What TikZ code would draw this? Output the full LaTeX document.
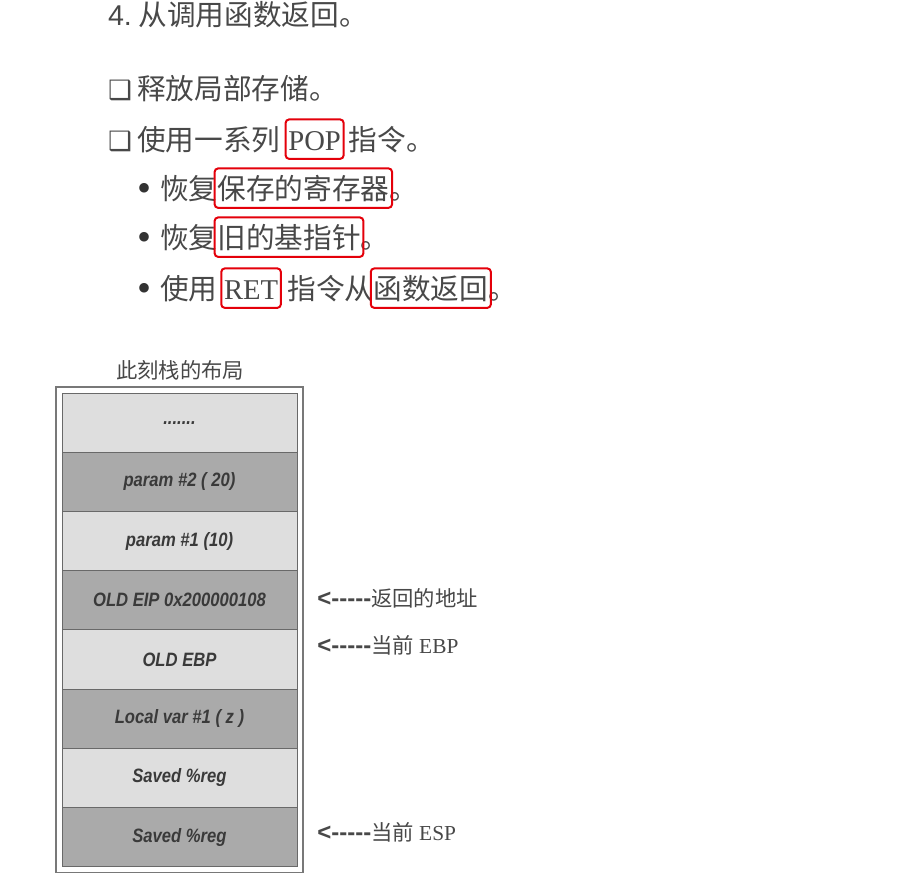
\documentclass[tikz,border=0pt]{standalone}
\usepackage{fontspec}
\setmainfont{Liberation Serif}
\newfontfamily\zhfont{Noto Sans CJK SC}
\newfontfamily\symfont{DejaVu Sans}
\newfontfamily\cellfont{Liberation Sans}
\newfontfamily\cellcondfont{Liberation Sans}[FakeStretch=0.86]
\usetikzlibrary{positioning, fit}
\definecolor{txtgray}{RGB}{72,72,72}
\definecolor{markred}{RGB}{228,0,10}
\definecolor{cellLight}{RGB}{222,222,222}
\definecolor{cellDark}{RGB}{170,170,170}
\definecolor{cellLine}{RGB}{105,105,105}
\definecolor{cellText}{RGB}{58,58,58}
\definecolor{frameGray}{RGB}{120,120,120}
\newcommand{\zh}[1]{{\zhfont #1}}

\begin{document}
\begin{tikzpicture}[x=0.75pt, y=-0.75pt,
	txtline/.style={inner sep=0pt, outer sep=0pt, anchor=base west, text height=18.9pt, text depth=2.6pt, text=txtgray, font=\fontsize{21.5}{25}\selectfont},
	boxglyph/.style={txtline, font=\symfont\fontsize{20}{25}\selectfont},
	bulletglyph/.style={txtline, text=black!80, font=\fontsize{30}{30}\selectfont},
	redbox/.style={draw=markred, line width=1.5pt, rounded corners=2.5pt, inner xsep=2pt, inner ysep=4pt},
	cell/.style={draw=cellLine, line width=0.6pt, minimum width=176.25pt, minimum height=44.4pt, inner sep=0pt, outer sep=0pt, text=cellText, font=\cellcondfont\bfseries\itshape\fontsize{14.5}{16}\selectfont},
	lightcell/.style={cell, fill=cellLight},
	darkcell/.style={cell, fill=cellDark},
	ptr/.style={anchor=west, inner sep=0pt, text=txtgray, font=\fontsize{16}{19}\selectfont}]
\useasboundingbox (0,0) rectangle (913,881);
%========================
% Top: steps of the return
%========================
\node[txtline] (num) at (108,26) {\cellfont 4.};
\node[txtline, base right=5pt of num] (title) {\zh{从调用函数返回。}};

% release local storage
\node[boxglyph] (box1) at (108,99) {❑};
\node[txtline] (free) at (137,99) {\zh{释放局部存储。}};

% POP instructions
\node[boxglyph] (box2) at (108,150) {❑};
\node[txtline] (use) at (137,150) {\zh{使用一系列}};
\node[txtline, base right=6pt of use] (pop) {POP};
\node[txtline, base right=6pt of pop] (popend) {\zh{指令。}};

\node[bulletglyph] (dot1) at (137,201.5) {•};
\node[txtline] (rest1) at (160,199) {\zh{恢复}};
\node[txtline, base right=0pt of rest1] (regs) {\zh{保存的寄存器}};
\node[txtline, base right=0pt of regs] (regsend) {\zh{。}};

\node[bulletglyph] (dot2) at (137,250.5) {•};
\node[txtline] (rest2) at (160,248) {\zh{恢复}};
\node[txtline, base right=0pt of rest2] (oldbp) {\zh{旧的基指针}};
\node[txtline, base right=0pt of oldbp] (oldbpend) {\zh{。}};

\node[bulletglyph] (dot3) at (137,301.5) {•};
\node[txtline] (use2) at (160,299) {\zh{使用}};
\node[txtline, base right=5pt of use2] (ret) {RET};
\node[txtline, base right=7pt of ret] (retfrom) {\zh{指令从}};
\node[txtline, base right=0pt of retfrom] (fnret) {\zh{函数返回}};
\node[txtline, base right=0pt of fnret] (fnretend) {\zh{。}};

% red marks
\node[redbox, fit=(pop)] (popmark) {};
\node[redbox, fit=(regs)] (regsmark) {};
\node[redbox, fit=(oldbp)] (oldbpmark) {};
\node[redbox, fit=(ret)] (retmark) {};
\node[redbox, fit=(fnret)] (fnretmark) {};

%========================
% Bottom: stack at this moment
%========================
\node[text=txtgray, font=\zhfont\fontsize{16}{19}\selectfont] (stacktitle) at (180,370) {此刻栈的布局};

\node[lightcell] (dots) at (179.5,422.6) {.......};
\node[darkcell, below=0pt of dots] (param2) {param \#2 ( 20)};
\node[lightcell, below=0pt of param2] (param1) {param \#1 (10)};
\node[darkcell, below=0pt of param1] (eip) {OLD EIP 0x200000108};
\node[lightcell, below=0pt of eip] (ebp) {OLD EBP};
\node[darkcell, below=0pt of ebp] (local) {Local var \#1 ( z )};
\node[lightcell, below=0pt of local] (reg1) {Saved \%reg};
\node[darkcell, below=0pt of reg1] (reg2) {Saved \%reg};
\node[draw=frameGray, line width=1pt, inner sep=4.5pt, fit=(dots)(reg2)] (frame) {};

% pointers
\node[ptr] (retaddr) at (317,598) {{\cellfont\bfseries\fontsize{18}{19}\selectfont <{-}{-}{-}{-}{-}}\zh{返回的地址}};
\node[ptr] (curebp) at (317,645) {{\cellfont\bfseries\fontsize{18}{19}\selectfont <{-}{-}{-}{-}{-}}\zh{当前} EBP};
\node[ptr] (curesp) at (317,832) {{\cellfont\bfseries\fontsize{18}{19}\selectfont <{-}{-}{-}{-}{-}}\zh{当前} ESP};
\end{tikzpicture}
\end{document}
